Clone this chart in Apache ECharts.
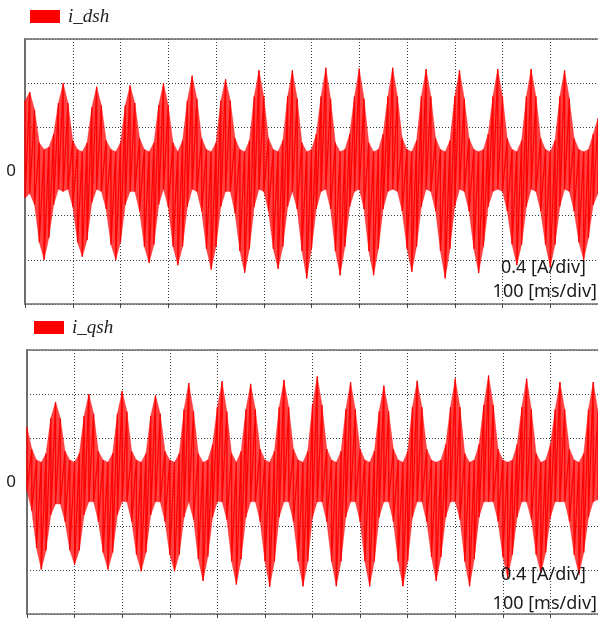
<!DOCTYPE html>
<html lang="en">
<head>
<meta charset="UTF-8">
<title>i_dsh / i_qsh</title>
<style>
    * { margin: 0; padding: 0; }
    html, body { background: #fff; }
    #main { width: 598px; height: 621px; }
</style>
<script src="https://cdn.jsdelivr.net/npm/echarts@6/dist/echarts.min.js"></script>
</head>
<body>
<div id="main"></div>
<script>
    // scope settings: 100 ms/div on x, values stored in divisions (0.4 A/div)
    var SAMPLE_MS = 10;
    var X_MAX_MS = 1200;
    var scaleTexts = ['0.4 [A/div]', '100 [ms/div]'];

    // upper / lower envelope of the ripple, one sample every 10 ms
    var dshHi = [
        1.6, 1.8, 1.4, 0.65, 0.5, 0.55, 0.85, 1.55, 2.0, 1.55,
        0.7, 0.5, 0.45, 0.65, 1.45, 1.92, 1.5, 0.7, 0.5, 0.45,
        0.65, 1.5, 1.95, 1.55, 0.75, 0.5, 0.45, 0.65, 1.5, 2.0,
        1.5, 0.65, 0.45, 0.7, 1.6, 2.17, 1.65, 0.75, 0.5, 0.45,
        0.65, 1.6, 2.09, 1.6, 0.75, 0.5, 0.45, 0.7, 1.7, 2.29,
        1.7, 0.75, 0.5, 0.45, 0.7, 1.7, 2.29, 1.65, 0.65, 0.45,
        0.5, 0.85, 1.7, 2.35, 1.65, 0.65, 0.45, 0.5, 0.85, 1.7,
        2.33, 1.65, 0.65, 0.45, 0.5, 0.85, 1.7, 2.35, 1.7, 0.75,
        0.5, 0.45, 0.7, 1.7, 2.32, 1.7, 0.75, 0.5, 0.45, 0.7,
        1.7, 2.29, 1.65, 0.75, 0.5, 0.45, 0.5, 0.85, 1.7, 2.32,
        1.7, 0.75, 0.5, 0.45, 0.7, 1.7, 2.32, 1.7, 0.75, 0.5,
        0.45, 0.7, 1.7, 2.29, 1.65, 0.75, 0.5, 0.45, 0.5, 0.85,
        1.2
    ];
    var dshLo = [
        -0.6, -0.5, -0.75, -1.6, -2.0, -1.5, -0.75, -0.4, -0.45, -0.4,
        -0.8, -1.6, -1.93, -1.55, -0.7, -0.4, -0.45, -0.85, -1.65, -2.0,
        -1.6, -0.75, -0.45, -0.45, -0.9, -1.7, -2.07, -1.65, -0.75, -0.4,
        -0.8, -1.7, -2.12, -1.7, -0.8, -0.4, -0.45, -0.9, -1.75, -2.22,
        -1.7, -0.8, -0.45, -0.45, -0.95, -1.8, -2.29, -1.75, -0.8, -0.4,
        -0.45, -0.9, -1.75, -2.2, -1.7, -0.8, -0.45, -0.85, -1.8, -2.42,
        -1.75, -0.85, -0.45, -0.4, -0.85, -1.8, -2.35, -1.7, -0.8, -0.45,
        -0.4, -0.85, -1.8, -2.35, -1.75, -0.85, -0.45, -0.4, -0.45, -0.9,
        -1.75, -2.27, -1.7, -0.8, -0.4, -0.45, -0.9, -1.8, -2.42, -1.75,
        -0.8, -0.4, -0.45, -0.9, -1.75, -2.3, -1.7, -0.8, -0.45, -0.4,
        -0.45, -0.9, -1.65, -2.12, -1.65, -0.8, -0.4, -0.45, -0.9, -1.65,
        -2.16, -1.65, -0.8, -0.4, -0.45, -0.9, -1.6, -2.0, -1.5, -0.75,
        -0.5
    ];
    var qshHi = [
        1.25, 0.75, 0.5, 0.45, 0.65, 1.45, 1.82, 1.45, 0.7, 0.5,
        0.45, 0.65, 1.5, 2.0, 1.55, 0.7, 0.5, 0.45, 0.65, 1.55,
        2.07, 1.6, 0.7, 0.5, 0.45, 0.65, 1.5, 1.97, 1.55, 0.7,
        0.5, 0.45, 0.65, 1.65, 2.25, 1.6, 0.65, 0.45, 0.5, 0.85,
        1.7, 2.29, 1.6, 0.65, 0.45, 0.7, 1.65, 2.23, 1.65, 0.75,
        0.5, 0.45, 0.7, 1.7, 2.32, 1.7, 0.75, 0.5, 0.45, 0.7,
        1.75, 2.4, 1.75, 0.75, 0.5, 0.45, 0.7, 1.65, 2.27, 1.65,
        0.75, 0.5, 0.45, 0.7, 1.6, 2.19, 1.6, 0.75, 0.5, 0.45,
        0.7, 1.7, 2.3, 1.7, 0.75, 0.5, 0.45, 0.5, 0.85, 1.7,
        2.35, 1.7, 0.65, 0.45, 0.5, 0.85, 1.75, 2.42, 1.75, 0.75,
        0.5, 0.45, 0.5, 0.85, 1.7, 2.35, 1.65, 0.65, 0.45, 0.5,
        0.85, 1.65, 2.27, 1.65, 0.75, 0.5, 0.45, 0.65, 1.65, 2.27,
        1.6
    ];
    var qshLo = [
        -0.2, -0.65, -1.5, -1.99, -1.55, -0.75, -0.5, -0.5, -0.9, -1.55,
        -1.88, -1.55, -0.75, -0.45, -0.45, -0.9, -1.6, -1.99, -1.6, -0.75,
        -0.45, -0.45, -0.9, -1.65, -2.03, -1.6, -0.75, -0.45, -0.45, -0.9,
        -1.65, -2.03, -1.65, -0.8, -0.45, -0.85, -1.75, -2.25, -1.7, -0.8,
        -0.45, -0.45, -0.85, -1.8, -2.33, -1.75, -0.8, -0.45, -0.45, -0.9,
        -1.8, -2.38, -1.8, -0.8, -0.45, -0.45, -0.9, -1.8, -2.37, -1.8,
        -0.8, -0.45, -0.45, -0.9, -1.8, -2.37, -1.8, -0.8, -0.45, -0.45,
        -0.9, -1.8, -2.37, -1.8, -0.8, -0.45, -0.45, -0.9, -1.8, -2.37,
        -1.8, -0.8, -0.45, -0.45, -0.9, -1.7, -2.25, -1.7, -0.8, -0.45,
        -0.45, -0.85, -1.8, -2.37, -1.75, -0.8, -0.45, -0.45, -0.45, -0.9,
        -1.7, -2.18, -1.65, -0.8, -0.45, -0.45, -0.85, -1.65, -2.07, -1.6,
        -0.8, -0.45, -0.45, -0.45, -0.9, -1.65, -2.1, -1.6, -0.8, -0.45,
        -0.4
    ];

    var RED = '#ff0000';
    var BAND = 'rgba(255,0,0,0.74)';
    var GRID_DOT = '#3a3a3a';
    var FRAME = '#6e6e6e';

    function bandPoints(hi, lo) {
        return hi.map(function (v, i) { return [i * SAMPLE_MS, v, lo[i]]; });
    }
    function ripplePoints(hi, lo) {
        var out = [];
        for (var i = 0; i < hi.length; i++) {
            out.push([i * SAMPLE_MS, hi[i]]);
            out.push([i * SAMPLE_MS, lo[i]]);
        }
        return out;
    }

    // filled quad between this sample and the next one
    function renderBand(params, api) {
        var next = params.dataIndexInside + 1;
        if (next >= params.dataInsideLength) return null;
        var t0 = api.value(0), t1 = api.value(0, next);
        var pts = [
            api.coord([t0, api.value(1)]),
            api.coord([t1, api.value(1, next)]),
            api.coord([t1, api.value(2, next)]),
            api.coord([t0, api.value(2)])
        ];
        return {
            type: 'polygon',
            shape: { points: pts },
            style: { fill: BAND, stroke: BAND, lineWidth: 0.4 }
        };
    }

    function bottomAxis(gridIndex) {
        return {
            type: 'value', gridIndex: gridIndex, min: 0, max: X_MAX_MS, interval: 100,
            axisLine: { show: true, onZero: false, lineStyle: { color: FRAME, width: 1.5 } },
            axisTick: { show: true, length: 4, lineStyle: { color: '#444' } },
            axisLabel: { show: false },
            splitLine: { show: true, lineStyle: { color: GRID_DOT, type: [1, 2], width: 1 } }
        };
    }
    function topAxis(gridIndex) {
        return {
            type: 'value', gridIndex: gridIndex, position: 'top', min: 0, max: X_MAX_MS,
            axisLine: { show: true, onZero: false, lineStyle: { color: FRAME, width: 1.5 } },
            axisTick: { show: false }, axisLabel: { show: false }, splitLine: { show: false }
        };
    }
    function leftAxis(gridIndex, margin) {
        return {
            type: 'value', gridIndex: gridIndex, min: -3, max: 3, interval: 1,
            axisLine: { show: true, onZero: false, lineStyle: { color: FRAME, width: 2 } },
            axisTick: { show: false },
            axisLabel: {
                margin: margin, fontSize: 17, color: '#1a1a1a', fontFamily: 'Noto Sans',
                formatter: function (v) { return v === 0 ? '0' : ''; }
            },
            splitLine: {
                show: true,
                lineStyle: {
                    // no dotted line through zero
                    color: [GRID_DOT, GRID_DOT, GRID_DOT, 'rgba(0,0,0,0)', GRID_DOT, GRID_DOT, GRID_DOT],
                    type: [1, 2], width: 1
                }
            }
        };
    }

    function waveSeries(name, axisIdx, hi, lo) {
        return [
            {
                name: name, type: 'custom', xAxisIndex: axisIdx.x, yAxisIndex: axisIdx.y,
                silent: true, itemStyle: { color: RED },
                encode: { x: 0, y: [1, 2] },
                renderItem: renderBand,
                data: bandPoints(hi, lo)
            },
            {
                name: name, type: 'line', xAxisIndex: axisIdx.x, yAxisIndex: axisIdx.y,
                symbol: 'none', silent: true,
                lineStyle: { width: 1.2, color: RED },
                data: ripplePoints(hi, lo)
            }
        ];
    }

    function legendFor(name, left, top) {
        return {
            data: [name], left: left, top: top, icon: 'rect',
            itemWidth: 30, itemHeight: 13, selectedMode: false,
            itemStyle: { color: RED },
            lineStyle: { width: 0 },
            textStyle: {
                fontFamily: 'Liberation Serif', fontStyle: 'italic', fontSize: 19,
                color: '#222', padding: [0, 0, 0, 3]
            }
        };
    }

    function scaleLabel(text, right, y) {
        return {
            type: 'text', x: right, y: y, z: 100,
            style: {
                text: text, align: 'right', verticalAlign: 'middle',
                font: '18px "Noto Sans"', fill: '#1a1a1a'
            }
        };
    }

    var chart = echarts.init(document.getElementById('main'), null, { renderer: 'canvas' });

    var option = {
        animation: false,
        backgroundColor: '#fff',
        legend: [legendFor('i_dsh', 25, 2), legendFor('i_qsh', 29, 313)],
        grid: [
            { left: 25, top: 39, width: 573, height: 265 },
            { left: 27, top: 350, width: 573, height: 264 }
        ],
        xAxis: [bottomAxis(0), topAxis(0), bottomAxis(1), topAxis(1)],
        yAxis: [leftAxis(0, 9), leftAxis(1, 11)],
        series: [].concat(
            waveSeries('i_dsh', { x: 0, y: 0 }, dshHi, dshLo),
            waveSeries('i_qsh', { x: 2, y: 1 }, qshHi, qshLo)
        ),
        graphic: [
            scaleLabel(scaleTexts[0], 586, 268),
            scaleLabel(scaleTexts[1], 597, 292),
            scaleLabel(scaleTexts[0], 586, 575),
            scaleLabel(scaleTexts[1], 597, 604)
        ]
    };

    chart.setOption(option);
</script>
</body>
</html>
